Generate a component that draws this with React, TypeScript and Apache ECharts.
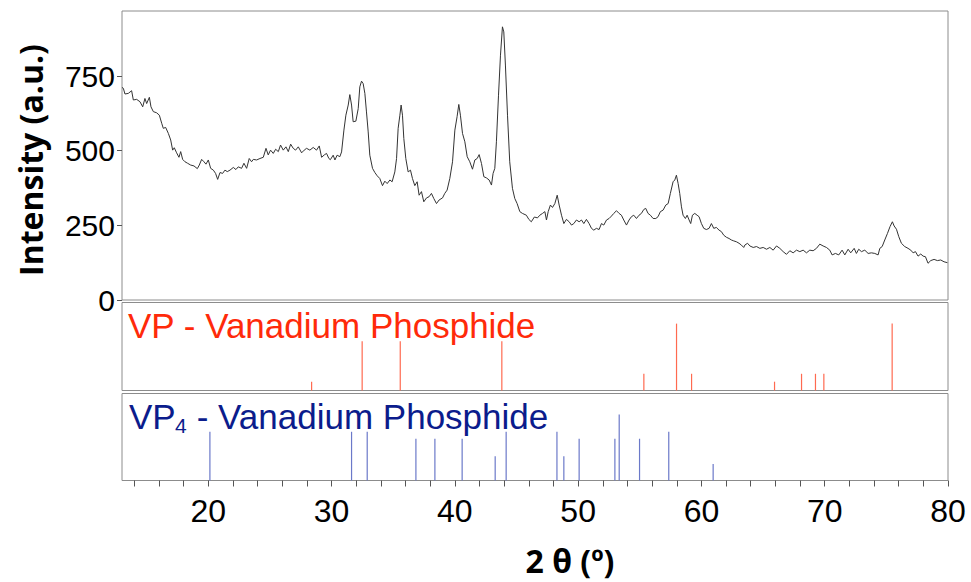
import React, { useEffect, useRef } from "react";
import * as echarts from "echarts";

// Measured XRD pattern (2θ in degrees, intensity in a.u.)
const xrdTheta = [
  13.0, 13.11, 13.24, 13.51, 13.78, 13.92, 14.19, 14.46, 14.68, 14.86, 15.0, 15.22, 15.35, 15.54, 15.81, 16.03,
  16.22, 16.35, 16.54, 16.76, 16.95, 17.11, 17.24, 17.43, 17.62, 17.76, 17.92, 18.11, 18.32, 18.57, 18.84, 19.11,
  19.27, 19.46, 19.65, 19.81, 20.0, 20.19, 20.41, 20.59, 20.76, 20.95, 21.16, 21.35, 21.54, 21.76, 22.03, 22.24,
  22.43, 22.7, 22.89, 23.11, 23.32, 23.51, 23.65, 23.92, 24.19, 24.46, 24.68, 24.86, 25.05, 25.27, 25.46, 25.68,
  25.86, 26.08, 26.3, 26.49, 26.68, 26.89, 27.08, 27.3, 27.57, 27.78, 27.97, 28.24, 28.51, 28.78, 29.0, 29.19,
  29.41, 29.59, 29.78, 29.9, 30.13, 30.27, 30.45, 30.67, 30.81, 31.0, 31.16, 31.35, 31.48, 31.62, 31.75, 31.97,
  32.16, 32.29, 32.43, 32.56, 32.7, 32.83, 32.97, 33.1, 33.32, 33.51, 33.7, 33.91, 34.13, 34.32, 34.51, 34.73,
  34.91, 35.13, 35.27, 35.4, 35.54, 35.64, 35.75, 35.86, 36.02, 36.21, 36.4, 36.56, 36.75, 36.94, 37.1, 37.29,
  37.48, 37.7, 37.91, 38.1, 38.29, 38.51, 38.72, 39.0, 39.18, 39.37, 39.59, 39.81, 40.0, 40.18, 40.32, 40.45,
  40.62, 40.81, 41.0, 41.21, 41.43, 41.62, 41.81, 41.97, 42.16, 42.35, 42.56, 42.78, 42.97, 43.1, 43.24, 43.37,
  43.54, 43.7, 43.86, 43.97, 44.1, 44.27, 44.45, 44.67, 44.86, 45.05, 45.27, 45.48, 45.8, 46.0, 46.2, 46.45,
  46.7, 46.89, 47.11, 47.3, 47.43, 47.57, 47.75, 47.92, 48.11, 48.3, 48.46, 48.65, 48.84, 49.05, 49.27, 49.46,
  49.65, 49.86, 50.08, 50.27, 50.46, 50.67, 50.89, 51.08, 51.27, 51.48, 51.7, 51.89, 52.08, 52.3, 52.51, 52.7,
  52.89, 53.11, 53.32, 53.51, 53.7, 53.92, 54.13, 54.32, 54.51, 54.73, 54.94, 55.13, 55.32, 55.48, 55.67, 55.86,
  56.08, 56.3, 56.48, 56.67, 56.89, 57.11, 57.3, 57.48, 57.7, 57.84, 57.97, 58.11, 58.24, 58.38, 58.51, 58.7,
  58.84, 59.0, 59.13, 59.27, 59.46, 59.65, 59.81, 60.0, 60.19, 60.4, 60.62, 60.81, 61.0, 61.21, 61.43, 61.62,
  61.81, 62.03, 62.24, 62.43, 62.62, 62.84, 63.05, 63.24, 63.43, 63.52, 63.74, 63.93, 64.2, 64.47, 64.74, 65.01,
  65.28, 65.55, 65.82, 66.09, 66.36, 66.63, 66.9, 67.17, 67.44, 67.71, 67.98, 68.25, 68.52, 68.79, 69.06, 69.33,
  69.6, 69.87, 70.14, 70.41, 70.6, 70.87, 71.14, 71.41, 71.63, 71.9, 72.11, 72.39, 72.57, 72.76, 72.98, 73.25,
  73.52, 73.79, 74.06, 74.33, 74.47, 74.66, 74.87, 75.09, 75.3, 75.49, 75.63, 75.82, 76.01, 76.22, 76.49, 76.76,
  76.98, 77.17, 77.36, 77.57, 77.79, 77.98, 78.17, 78.38, 78.6, 78.87, 79.14, 79.41, 79.68, 79.95, 80.0,
];
const xrdIntensity = [
  712, 709, 690, 692, 701, 670, 672, 664, 647, 675, 658, 679, 647, 631, 627, 619,
  592, 575, 578, 558, 536, 502, 510, 493, 478, 497, 471, 463, 458, 452, 449, 440,
  452, 471, 463, 455, 469, 441, 435, 424, 404, 427, 424, 435, 430, 435, 444, 437,
  446, 441, 458, 441, 474, 463, 471, 469, 474, 478, 508, 486, 502, 491, 505, 497,
  519, 502, 513, 497, 522, 508, 502, 513, 493, 502, 508, 502, 511, 502, 516, 478,
  486, 491, 474, 470, 485, 469, 485, 480, 496, 569, 619, 653, 688, 653, 597, 599,
  641, 714, 733, 725, 692, 630, 563, 485, 441, 427, 416, 407, 383, 398, 390, 402,
  396, 429, 474, 575, 619, 653, 619, 541, 474, 429, 435, 407, 383, 396, 351, 363,
  329, 342, 346, 357, 340, 323, 335, 342, 357, 368, 407, 463, 569, 614, 655, 619,
  558, 530, 480, 463, 438, 469, 474, 487, 457, 413, 409, 402, 385, 424, 441, 530,
  686, 820, 915, 898, 787, 619, 463, 374, 340, 323, 296, 290, 284, 270, 262, 278,
  275, 284, 290, 296, 268, 296, 318, 310, 323, 351, 318, 284, 256, 270, 262, 251,
  256, 268, 262, 268, 256, 270, 256, 240, 234, 240, 236, 256, 251, 268, 273, 281,
  290, 299, 290, 284, 268, 251, 268, 279, 284, 273, 284, 290, 303, 307, 290, 284,
  273, 273, 279, 296, 301, 318, 323, 357, 396, 402, 418, 390, 357, 312, 284, 273,
  284, 268, 256, 284, 290, 284, 279, 256, 240, 236, 240, 256, 240, 243, 234, 229,
  217, 210, 206, 201, 198, 195, 190, 184, 176, 184, 190, 181, 176, 179, 173, 176,
  170, 176, 167, 181, 173, 162, 153, 165, 158, 167, 162, 167, 158, 167, 165, 173,
  187, 181, 176, 167, 151, 156, 151, 167, 151, 170, 158, 173, 156, 170, 162, 167,
  156, 158, 156, 151, 173, 179, 201, 223, 246, 262, 248, 237, 212, 190, 179, 173,
  167, 158, 162, 147, 154, 147, 145, 123, 132, 136, 132, 134, 128, 125, 126,
];

// Reference stick patterns (relative intensity, %)
const vpTheta = [28.38, 32.48, 35.57, 43.81, 55.33, 57.98, 59.2, 65.93, 68.12, 69.25, 69.93, 75.47];
const vpIntensity = [10, 56, 56, 56, 19, 76, 19, 10, 19, 19, 19, 76];

const vp4Theta = [20.13, 31.62, 32.89, 36.84, 38.38, 40.59, 43.27, 44.16, 48.28, 48.84, 50.08, 52.98, 53.33, 54.98, 57.35, 60.95];
const vp4Intensity = [56, 56, 56, 48, 48, 48, 28, 56, 56, 28, 48, 48, 76, 48, 56, 19];

// Axis ticks / labels
const xLabelValues = [20, 30, 40, 50, 60, 70, 80];
const xTickValues = [14, 16, 18, 20, 22, 24, 26, 28, 30, 32, 34, 36, 38, 40, 42, 44, 46, 48, 50, 52, 54, 56, 58, 60, 62, 64, 66, 68, 70, 72, 74, 76, 78, 80];
const yLabelValues = [0, 250, 500, 750];

const X_MIN = 13;
const X_MAX = 80;
const Y_MAX = 968;

export default function App() {
  const ref = useRef<HTMLDivElement>(null);

  useEffect(() => {
    if (!ref.current) return;
    const chart = echarts.init(ref.current, undefined, { renderer: "svg" });
    const frame = { show: true, borderColor: "#8c8c8c", borderWidth: 1, backgroundColor: "#fff" };
    const hiddenX = (gi: number) => ({
      type: "value", gridIndex: gi, min: X_MIN, max: X_MAX, show: false,
      splitLine: { show: false },
    });
    const hiddenY = (gi: number) => ({
      type: "value", gridIndex: gi, min: 0, max: 100, show: false, splitLine: { show: false },
    });
    const sans = "Liberation Sans, Arial, sans-serif";

    chart.setOption({
      animation: false,
      backgroundColor: "#fff",
      grid: [
        { left: 122, top: 11, width: 826, height: 289, ...frame },
        { left: 122, top: 302.5, width: 826, height: 88, ...frame },
        { left: 122, top: 393.5, width: 826, height: 87, ...frame },
      ],
      xAxis: [
        hiddenX(0),
        hiddenX(1),
        {
          type: "value", gridIndex: 2, min: X_MIN, max: X_MAX,
          axisLine: { show: false },
          splitLine: { show: false },
          axisTick: { show: true, length: 6, customValues: xTickValues, lineStyle: { color: "#555", width: 1 } },
          axisLabel: {
            customValues: xLabelValues, fontSize: 32, fontFamily: sans,
            color: "#000", margin: 14,
          },
        },
      ],
      yAxis: [
        {
          type: "value", gridIndex: 0, min: 0, max: Y_MAX,
          axisLine: { show: false },
          splitLine: { show: false },
          axisTick: { show: true, length: 5, customValues: yLabelValues, lineStyle: { color: "#555", width: 1 } },
          axisLabel: {
            customValues: yLabelValues, fontSize: 30,
            fontFamily: sans, color: "#000", margin: 7,
          },
        },
        hiddenY(1),
        hiddenY(2),
      ],
      series: [
        {
          type: "line", xAxisIndex: 0, yAxisIndex: 0, showSymbol: false, symbol: "none",
          lineStyle: { color: "#333", width: 1 },
          data: xrdTheta.map((t, i) => [t, xrdIntensity[i]]),
          silent: true,
        },
        {
          type: "bar", xAxisIndex: 1, yAxisIndex: 1, barWidth: 1.2,
          itemStyle: { color: "#ff6a50" },
          data: vpTheta.map((t, i) => [t, vpIntensity[i]]),
          silent: true,
        },
        {
          type: "bar", xAxisIndex: 2, yAxisIndex: 2, barWidth: 1.2,
          itemStyle: { color: "#6b79c9" },
          data: vp4Theta.map((t, i) => [t, vp4Intensity[i]]),
          silent: true,
        },
      ],
      graphic: [
        {
          type: "text", x: 128, y: 325,
          style: {
            text: "VP - Vanadium Phosphide", fontSize: 35, fontFamily: sans,
            fill: "#ff2a0a", textAlign: "left", verticalAlign: "middle",
          },
        },
        {
          type: "text", x: 129, y: 416,
          style: {
            text: "VP", fontSize: 35, fontFamily: sans,
            fill: "#0b1c8c", textAlign: "left", verticalAlign: "middle",
          },
        },
        {
          type: "text", x: 175, y: 425,
          style: {
            text: "4", fontSize: 21, fontFamily: sans,
            fill: "#0b1c8c", textAlign: "left", verticalAlign: "middle",
          },
        },
        {
          type: "text", x: 187, y: 416,
          style: {
            text: " - Vanadium Phosphide", fontSize: 35, fontFamily: sans,
            fill: "#0b1c8c", textAlign: "left", verticalAlign: "middle",
          },
        },
        {
          type: "text", x: 30, y: 160, rotation: Math.PI / 2,
          style: {
            text: "Intensity (a.u.)", fontSize: 32, fontWeight: "bold", fontFamily: "Open Sans, sans-serif",
            fill: "#000", textAlign: "center", verticalAlign: "middle",
          },
        },
        {
          type: "text", x: 570, y: 560,
          style: {
            text: "2 θ (º)", fontSize: 32, fontWeight: "bold", fontFamily: "Open Sans, sans-serif",
            fill: "#000", textAlign: "center", verticalAlign: "middle",
          },
        },
      ],
    });
    return () => chart.dispose();
  }, []);

  return (
    <div
      ref={ref}
      style={{ position: "fixed", left: 0, top: 0, width: 971, height: 582, background: "#fff" }}
    />
  );
}
